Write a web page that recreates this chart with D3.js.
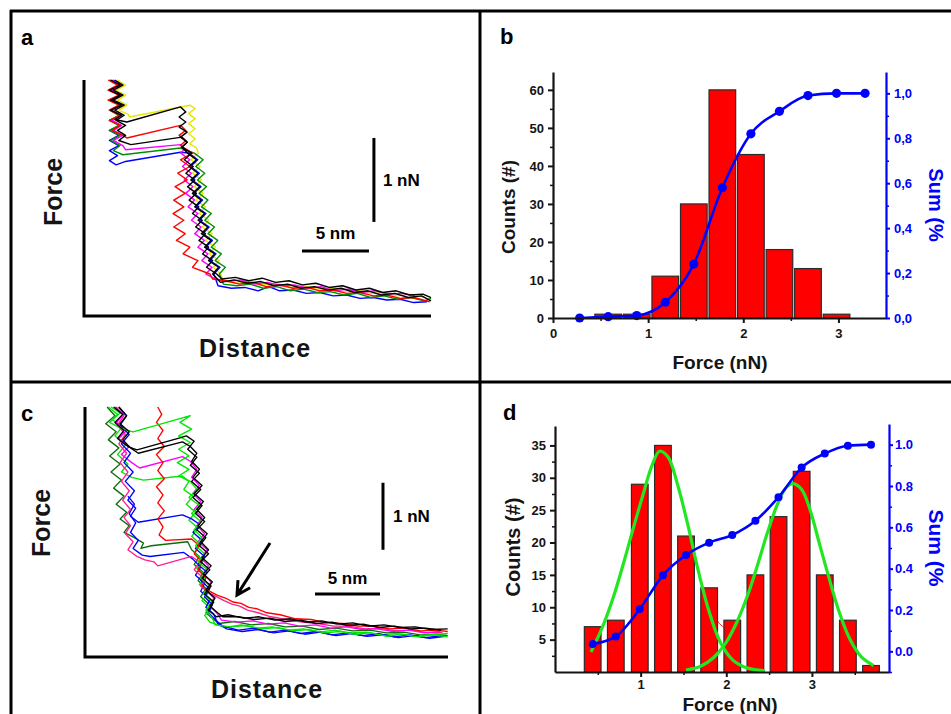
<!DOCTYPE html>
<html>
<head>
<meta charset="utf-8">
<script src="https://cdn.jsdelivr.net/npm/d3@7"></script>
<style>
  body { margin: 0; background: #fff; }
  svg { display: block; }
  text { font-family: "Liberation Sans", Arial, Helvetica, sans-serif; font-weight: bold; }
</style>
</head>
<body>
<svg id="fig" width="951" height="714"></svg>
<script>
// ---------------- Panel a: force–distance traces (nm, nN) ----------------
const aYellow = [[2.5,2.81],[3.1,2.75],[2.4,2.69],[3.1,2.63],[2.5,2.57],[3.2,2.51],[2.6,2.45],[3.3,2.4],[3.4,2.37],[7.9,2.51],[8.3,2.47],[7.8,2.41],[8.3,2.35],[7.8,2.29],[8.3,2.23],[7.8,2.17],[8.3,2.11],[7.9,2.05],[8.4,2.0],[8.53,1.94],[7.99,1.86],[8.65,1.78],[8.11,1.7],[8.77,1.62],[8.23,1.54],[8.89,1.46],[8.35,1.38],[9.07,1.3],[8.6,1.22],[9.32,1.14],[8.84,1.06],[9.56,0.98],[9.08,0.9],[9.8,0.82],[9.35,0.74],[10.1,0.66],[9.65,0.58],[10.2,0.5],[10.4,0.42],[11.4,0.39],[12.4,0.41],[13.4,0.37],[14.4,0.39],[15.4,0.34],[16.4,0.36],[17.4,0.32],[18.4,0.33],[19.4,0.29],[20.4,0.31],[21.4,0.27],[22.4,0.28],[23.4,0.24],[24.4,0.26],[25.4,0.22]];
const aBlue = [[2.2,2.81],[2.8,2.75],[2.1,2.69],[2.8,2.63],[2.0,2.57],[2.8,2.51],[2.0,2.45],[2.7,2.39],[1.9,2.33],[2.7,2.27],[1.9,2.21],[2.6,2.15],[1.9,2.09],[2.6,2.03],[1.9,1.97],[2.5,1.91],[1.9,1.85],[2.4,1.8],[3.1,1.84],[7.2,1.95],[7.83,1.94],[8.49,1.86],[7.95,1.78],[8.61,1.7],[8.07,1.62],[8.73,1.54],[8.19,1.46],[8.85,1.38],[8.37,1.3],[9.1,1.22],[8.62,1.14],[9.34,1.06],[8.86,0.98],[9.58,0.9],[9.1,0.82],[9.85,0.74],[9.4,0.66],[10.15,0.58],[9.7,0.5],[10.0,0.36],[11.0,0.33],[12.0,0.34],[13.0,0.3],[13.8,0.35],[14.6,0.3],[15.6,0.31],[16.6,0.27],[17.6,0.28],[18.6,0.24],[19.6,0.25],[20.6,0.21],[21.6,0.22],[22.6,0.19],[23.6,0.2],[24.6,0.16],[25.6,0.17]];
const aGreen = [[1.9,2.81],[2.7,2.75],[2.0,2.69],[2.7,2.63],[1.9,2.57],[2.7,2.51],[1.9,2.45],[2.6,2.39],[1.9,2.33],[2.6,2.27],[1.9,2.21],[2.7,2.15],[2.0,2.09],[2.7,2.03],[2.2,1.97],[2.9,1.92],[7.2,2.0],[8.23,1.94],[8.89,1.86],[8.35,1.78],[9.01,1.7],[8.47,1.62],[9.13,1.54],[8.59,1.46],[9.25,1.38],[8.77,1.3],[9.5,1.22],[9.02,1.14],[9.74,1.06],[9.26,0.98],[9.98,0.9],[9.5,0.82],[10.25,0.74],[9.8,0.66],[10.55,0.58],[10.1,0.5],[10.4,0.38],[11.4,0.36],[12.4,0.38],[13.4,0.33],[14.4,0.35],[15.4,0.3],[16.4,0.32],[17.4,0.28],[18.4,0.29],[19.4,0.25],[20.4,0.27],[21.4,0.22],[22.4,0.24],[23.4,0.2],[24.4,0.22],[25.4,0.18],[25.9,0.21]];
const aMagenta = [[2.1,2.81],[2.8,2.75],[2.0,2.69],[2.8,2.63],[2.1,2.57],[2.8,2.51],[2.0,2.45],[2.8,2.39],[2.1,2.33],[2.8,2.27],[2.2,2.21],[2.9,2.15],[2.2,2.09],[2.9,2.03],[3.1,1.98],[7.2,2.04],[7.5,1.99],[7.23,1.94],[7.89,1.86],[7.35,1.78],[8.01,1.7],[7.47,1.62],[8.13,1.54],[7.59,1.46],[8.25,1.38],[7.77,1.3],[8.5,1.22],[8.02,1.14],[8.74,1.06],[8.26,0.98],[8.98,0.9],[8.5,0.82],[9.25,0.74],[8.8,0.66],[9.55,0.58],[9.1,0.5],[9.7,0.45],[10.7,0.41],[11.7,0.43],[12.7,0.38],[13.7,0.4],[14.7,0.36],[15.7,0.37],[16.7,0.33],[17.7,0.35],[18.7,0.3],[19.7,0.32],[20.7,0.28],[21.7,0.3],[22.7,0.26],[23.7,0.27],[24.7,0.24]];
const aRed = [[1.8,2.81],[2.5,2.75],[1.8,2.69],[2.6,2.63],[1.8,2.57],[2.6,2.51],[1.9,2.45],[2.7,2.39],[1.9,2.33],[2.7,2.27],[2.1,2.21],[2.9,2.15],[3.2,2.12],[7.2,2.27],[7.6,2.21],[7.1,2.15],[7.6,2.09],[7.2,2.03],[8.1,1.94],[7.2,1.86],[7.9,1.78],[7.0,1.7],[7.7,1.62],[6.8,1.54],[7.55,1.46],[6.7,1.38],[7.45,1.3],[6.65,1.22],[7.45,1.14],[6.7,1.06],[7.55,0.98],[6.9,0.9],[7.9,0.82],[7.4,0.74],[8.5,0.66],[8.1,0.58],[9.4,0.5],[9.6,0.44],[10.6,0.42],[11.6,0.38],[12.6,0.4],[13.6,0.35],[14.6,0.37],[15.6,0.33],[16.6,0.34],[17.6,0.3],[18.6,0.31],[19.6,0.27],[20.6,0.28],[21.6,0.24],[22.6,0.25],[23.6,0.21],[24.6,0.22],[25.8,0.17]];
const aBlack2 = [[2.3,2.81],[2.9,2.75],[2.2,2.69],[2.9,2.63],[2.2,2.57],[3.0,2.51],[2.3,2.45],[3.0,2.39],[2.4,2.33],[3.1,2.27],[2.5,2.21],[3.1,2.15],[2.6,2.09],[3.5,2.04],[7.3,2.13],[7.7,2.07],[7.3,2.01],[7.73,1.94],[8.39,1.86],[7.85,1.78],[8.51,1.7],[7.97,1.62],[8.63,1.54],[8.09,1.46],[8.75,1.38],[8.27,1.3],[9.0,1.22],[8.52,1.14],[9.24,1.06],[8.76,0.98],[9.48,0.9],[9.0,0.82],[9.75,0.74],[9.3,0.66],[10.05,0.58],[9.6,0.5],[10.2,0.4],[11.2,0.43],[12.2,0.39],[13.2,0.41],[14.2,0.36],[15.2,0.38],[16.2,0.33],[17.2,0.35],[18.2,0.31],[19.2,0.33],[20.2,0.28],[21.2,0.3],[22.2,0.25],[23.2,0.27],[24.2,0.22],[25.2,0.24],[25.9,0.18]];
const aBlack1 = [[2.0,2.81],[2.7,2.75],[1.9,2.69],[2.7,2.63],[2.0,2.57],[2.8,2.51],[2.0,2.45],[2.8,2.39],[2.3,2.34],[3.2,2.31],[7.2,2.49],[7.6,2.43],[7.1,2.37],[7.6,2.31],[7.1,2.25],[7.7,2.19],[7.2,2.13],[7.7,2.07],[7.3,2.01],[8.03,1.94],[7.49,1.86],[8.15,1.78],[7.61,1.7],[8.27,1.62],[7.73,1.54],[8.39,1.46],[7.85,1.38],[8.57,1.3],[8.1,1.22],[8.82,1.14],[8.34,1.06],[9.06,0.98],[8.58,0.9],[9.3,0.82],[8.85,0.74],[9.6,0.66],[9.15,0.58],[9.9,0.5],[10.3,0.44],[11.3,0.46],[12.3,0.42],[13.3,0.45],[14.3,0.4],[15.3,0.42],[16.3,0.37],[17.3,0.39],[18.3,0.34],[19.3,0.36],[20.3,0.31],[21.3,0.33],[22.3,0.28],[23.3,0.3],[24.3,0.25],[25.3,0.26],[25.9,0.22]];
const aTraces = [aYellow, aBlue, aGreen, aMagenta, aRed, aBlack2, aBlack1];
const aColors = ["#e6e600", "#0000ff", "#008f00", "#ff00ff", "#ff0000", "#000000", "#000000"];

// ---------------- Panel c: force–distance traces (nm, nN) ----------------
const cDkGreen = [[1.7,3.73],[2.3,3.6],[1.6,3.48],[2.4,3.36],[1.8,3.24],[2.6,3.12],[1.9,3.0],[2.7,2.88],[2.0,2.76],[2.8,2.64],[2.2,2.52],[3.0,2.4],[2.4,2.28],[3.2,2.16],[2.7,2.06],[3.4,1.96],[3.0,1.86],[3.8,1.78],[4.5,1.7],[4.3,1.62],[5.1,1.66],[7.9,1.72],[8.2,1.6],[8.8,1.5],[8.4,1.38],[9.1,1.26],[8.7,1.14],[9.3,1.02],[8.9,0.9],[9.6,0.78],[9.3,0.66],[9.9,0.56],[10.3,0.5],[11.5,0.53],[12.8,0.48],[14.1,0.5],[15.4,0.45],[16.7,0.46],[18.0,0.41],[19.3,0.43],[20.6,0.39],[21.9,0.4],[23.2,0.36],[24.5,0.37],[25.8,0.33],[27.1,0.34],[27.9,0.32]];
const cGreen2 = [[2.0,3.73],[2.7,3.64],[2.1,3.54],[2.9,3.44],[2.3,3.3],[3.1,3.16],[2.5,3.02],[3.3,2.88],[2.8,2.76],[3.6,2.68],[4.5,2.64],[7.5,2.7],[8.0,2.62],[7.6,2.5],[8.3,2.4],[7.8,2.28],[8.5,2.16],[8.0,2.04],[8.7,1.92],[8.2,1.8],[8.9,1.68],[8.4,1.56],[9.1,1.44],[8.6,1.32],[9.3,1.2],[8.8,1.08],[9.5,0.96],[9.0,0.84],[9.7,0.72],[9.2,0.62],[9.6,0.52],[10.8,0.44],[12.0,0.48],[13.2,0.43],[14.4,0.45],[15.6,0.4],[16.8,0.42],[18.0,0.37],[19.2,0.4],[20.4,0.36],[21.6,0.37],[22.8,0.33],[24.0,0.35],[25.2,0.31],[26.4,0.33],[27.9,0.35]];
const cBlue2 = [[3.3,2.4],[3.8,2.28],[3.4,2.14],[3.9,2.0],[3.5,1.86],[4.1,1.74],[3.7,1.62],[4.4,1.52],[5.0,1.5],[7.6,1.56],[8.3,1.46],[8.9,1.34],[8.5,1.22],[9.2,1.1],[8.9,0.98],[9.6,0.86],[9.3,0.74],[9.9,0.64],[10.2,0.5],[10.9,0.42],[12.1,0.38],[13.3,0.41],[14.5,0.36],[15.7,0.39],[16.9,0.34],[18.1,0.37],[19.3,0.32],[20.5,0.35],[21.7,0.31],[22.9,0.33],[24.1,0.29],[25.3,0.32],[26.5,0.28],[27.7,0.31]];
const cPink = [[2.4,3.73],[3.0,3.6],[2.5,3.46],[3.1,3.32],[2.6,3.18],[3.2,3.04],[2.7,2.9],[3.3,2.76],[2.8,2.62],[3.4,2.48],[2.9,2.34],[3.5,2.2],[3.0,2.08],[3.5,1.96],[3.1,1.84],[3.7,1.72],[3.3,1.6],[4.0,1.5],[4.6,1.45],[5.3,1.42],[5.6,1.36],[8.2,1.5],[8.8,1.42],[8.4,1.3],[9.1,1.18],[8.9,1.06],[9.5,0.96],[10.1,0.9],[10.7,0.84],[11.3,0.79],[11.9,0.76],[12.5,0.7],[13.3,0.66],[14.3,0.6],[15.5,0.56],[16.7,0.52],[17.9,0.5],[19.1,0.46],[20.3,0.46],[21.5,0.42],[22.7,0.43],[23.9,0.39],[25.1,0.4],[26.3,0.36],[27.5,0.37]];
const cMagenta = [[2.3,3.73],[3.0,3.62],[2.4,3.5],[3.2,3.38],[2.6,3.26],[3.4,3.14],[2.8,3.02],[3.6,2.9],[4.2,2.82],[7.5,2.99],[8.1,2.92],[8.6,2.8],[8.2,2.68],[8.8,2.56],[8.3,2.44],[8.9,2.32],[8.4,2.2],[9.0,2.08],[8.6,1.96],[9.2,1.84],[8.7,1.72],[9.4,1.6],[8.9,1.48],[9.5,1.36],[9.1,1.24],[9.7,1.12],[9.3,1.0],[9.9,0.88],[9.6,0.76],[10.2,0.64],[10.5,0.55],[11.7,0.52],[12.9,0.54],[14.1,0.49],[15.3,0.51],[16.5,0.46],[17.7,0.48],[18.9,0.43],[20.1,0.45],[21.3,0.41],[22.5,0.42],[23.7,0.38],[24.9,0.4],[26.1,0.36],[27.3,0.38]];
const cBlue = [[2.6,3.73],[3.2,3.6],[2.7,3.46],[3.4,3.32],[2.8,3.18],[3.5,3.04],[3.0,2.9],[3.7,2.76],[3.1,2.62],[3.8,2.48],[3.3,2.34],[3.9,2.22],[3.5,2.1],[4.1,2.01],[7.5,2.12],[8.2,2.06],[8.8,1.98],[8.3,1.86],[9.0,1.74],[8.5,1.62],[9.2,1.5],[8.7,1.38],[9.4,1.26],[8.9,1.14],[9.6,1.02],[9.2,0.9],[9.8,0.78],[9.5,0.66],[10.0,0.56],[10.6,0.46],[11.8,0.4],[13.0,0.43],[14.2,0.37],[15.4,0.4],[16.6,0.35],[17.8,0.38],[19.0,0.33],[20.2,0.36],[21.4,0.32],[22.6,0.35],[23.8,0.3],[25.0,0.33],[26.2,0.29],[27.4,0.32]];
const cRed = [[5.6,3.73],[5.9,3.62],[5.5,3.5],[6.0,3.38],[5.6,3.26],[6.1,3.14],[5.5,3.02],[6.0,2.9],[5.6,2.78],[6.1,2.66],[5.5,2.54],[6.0,2.42],[5.6,2.3],[6.1,2.18],[5.6,2.06],[6.0,1.94],[5.7,1.82],[6.2,1.74],[8.2,1.76],[8.8,1.66],[8.4,1.54],[9.0,1.42],[8.7,1.3],[9.3,1.18],[9.0,1.06],[9.6,0.98],[10.2,0.92],[10.8,0.88],[11.4,0.82],[12.0,0.8],[12.6,0.74],[13.2,0.72],[14.0,0.66],[15.0,0.63],[16.2,0.57],[17.4,0.56],[18.6,0.51],[19.8,0.5],[21.0,0.46],[22.2,0.46],[23.4,0.42],[24.6,0.43],[25.8,0.39],[27.0,0.4],[27.9,0.38]];
const cGreen1 = [[1.8,3.73],[2.5,3.62],[1.9,3.5],[2.7,3.42],[3.7,3.36],[8.1,3.6],[7.3,3.5],[8.2,3.4],[7.2,3.3],[8.1,3.2],[7.2,3.1],[8.0,3.0],[7.1,2.9],[8.0,2.8],[7.2,2.7],[8.1,2.62],[8.6,2.5],[8.0,2.38],[8.8,2.26],[8.2,2.14],[8.9,2.02],[8.4,1.9],[9.0,1.78],[8.5,1.66],[9.2,1.54],[8.7,1.42],[9.4,1.3],[8.9,1.18],[9.6,1.06],[9.1,0.94],[9.8,0.82],[9.3,0.7],[9.8,0.58],[10.0,0.48],[11.2,0.45],[12.4,0.47],[13.6,0.42],[14.8,0.44],[16.0,0.39],[17.2,0.41],[18.4,0.36],[19.6,0.38],[20.8,0.34],[22.0,0.36],[23.2,0.31],[24.4,0.34],[25.6,0.3],[26.8,0.33],[27.9,0.3]];
const cBlack2 = [[2.6,3.73],[3.2,3.6],[2.7,3.48],[3.4,3.36],[2.9,3.24],[3.5,3.12],[4.1,3.04],[7.5,3.21],[8.1,3.14],[8.6,3.04],[8.2,2.92],[8.8,2.8],[8.3,2.68],[9.0,2.56],[8.4,2.44],[9.1,2.32],[8.6,2.2],[9.2,2.08],[8.7,1.96],[9.4,1.84],[8.9,1.72],[9.5,1.6],[9.0,1.48],[9.7,1.36],[9.1,1.24],[9.8,1.12],[9.3,1.0],[10.0,0.88],[9.6,0.76],[10.2,0.66],[10.6,0.6],[11.8,0.6],[13.0,0.56],[14.2,0.58],[15.4,0.53],[16.6,0.55],[17.8,0.5],[19.0,0.52],[20.2,0.47],[21.4,0.49],[22.6,0.44],[23.8,0.46],[25.0,0.42],[26.2,0.43],[27.4,0.4]];
const cBlack1 = [[2.2,3.73],[2.9,3.62],[2.3,3.5],[3.0,3.38],[2.5,3.26],[3.3,3.14],[4.0,3.09],[7.3,3.27],[7.8,3.3],[8.4,3.22],[7.9,3.1],[8.6,2.98],[8.1,2.86],[8.8,2.74],[8.2,2.62],[8.9,2.5],[8.3,2.38],[9.0,2.26],[8.5,2.14],[9.2,2.02],[8.6,1.9],[9.3,1.78],[8.8,1.66],[9.5,1.54],[8.9,1.42],[9.6,1.3],[9.0,1.18],[9.7,1.06],[9.2,0.94],[9.9,0.82],[9.5,0.7],[10.1,0.6],[11.0,0.63],[12.2,0.58],[13.4,0.6],[14.6,0.55],[15.8,0.57],[17.0,0.52],[18.2,0.54],[19.4,0.49],[20.6,0.51],[21.8,0.46],[23.0,0.48],[24.2,0.44],[25.4,0.45],[26.6,0.41],[27.9,0.42]];
const cTraces = [cDkGreen, cGreen2, cBlue2, cPink, cMagenta, cBlue, cRed, cGreen1, cBlack2, cBlack1];
const cColors = ["#0b6e0b", "#00e600", "#0000ff", "#ff1f8f", "#ff00ff", "#0000ff", "#ff0000", "#00e600", "#000000", "#000000"];
// arrow marking the shoulder: tail and tip (nm, nN)
const cArrow = [[14.23, 1.70], [11.69, 0.925]];

// ---------------- Panel b: histogram + cumulative sum ----------------
const bForce = [0.58, 0.88, 1.18, 1.48, 1.78, 2.08, 2.38, 2.68, 2.98];
const bCounts = [1, 1, 11, 30, 60, 43, 18, 13, 1];
const bSumForce = [0.28, 0.58, 0.88, 1.18, 1.48, 1.78, 2.08, 2.38, 2.68, 2.98, 3.28];
const bSum = [0.0, 0.006, 0.011, 0.07, 0.24, 0.58, 0.82, 0.92, 0.99, 1.0, 1.0];
const bCountTicks = [0, 10, 20, 30, 40, 50, 60];
const bSumTicks = [0, 0.2, 0.4, 0.6, 0.8, 1.0];
const bForceTicks = [0, 1, 2, 3];

// ---------------- Panel d: histogram, Gaussian fits + cumulative sum ----------------
const dForce = [0.44, 0.71, 0.99, 1.26, 1.53, 1.8, 2.07, 2.34, 2.61, 2.88, 3.15, 3.42, 3.69];
const dCounts = [7, 8, 29, 35, 21, 13, 8, 15, 24, 31, 15, 8, 1];
const dSum = [0.035, 0.072, 0.205, 0.368, 0.466, 0.526, 0.563, 0.632, 0.746, 0.889, 0.957, 0.995, 1.0];
const dFit1Force = [0.42, 0.55, 0.68, 0.8, 0.92, 1.03, 1.13, 1.22, 1.32, 1.43, 1.55, 1.67, 1.8, 1.93, 2.08, 2.25, 2.45];
const dFit1Count = [3.1, 6.8, 11.5, 16.8, 22.5, 27.5, 31.8, 34.1, 33.2, 29.0, 22.8, 15.8, 9.3, 4.6, 1.8, 0.6, 0.2];
const dFit2Force = [1.53, 1.7, 1.85, 2.0, 2.12, 2.24, 2.36, 2.48, 2.6, 2.7, 2.78, 2.88, 2.98, 3.08, 3.2, 3.32, 3.45, 3.58, 3.72];
const dFit2Count = [0.3, 0.9, 2.2, 4.6, 7.6, 11.5, 16.3, 21.5, 26.0, 28.5, 29.1, 28.2, 25.0, 20.2, 14.5, 9.2, 4.9, 2.3, 1.0];
const dFitSumForce = [1.82, 1.9, 1.98, 2.06, 2.14, 2.22];
const dFitSumCount = [9.6, 7.8, 6.9, 7.0, 8.2, 10.6];
const dCountTicks = [5, 10, 15, 20, 25, 30, 35];
const dSumTicks = [0, 0.2, 0.4, 0.6, 0.8, 1.0];
const dForceTicks = [1, 2, 3];

// ======================================================================
const svg = d3.select("#fig");
const INK = "#141414";

// panel frame
const frame = svg.append("g").attr("stroke", "#000").attr("stroke-width", 3).attr("fill", "none");
[[10, 11, 951, 11], [11, 10, 11, 714], [480, 11, 480, 714], [11, 382, 951, 382]].forEach(l =>
  frame.append("line").attr("x1", l[0]).attr("y1", l[1]).attr("x2", l[2]).attr("y2", l[3]));

// panel letters
[["a", 21, 45], ["b", 500, 44], ["c", 21, 421], ["d", 503, 420]].forEach(t =>
  svg.append("text").attr("x", t[1]).attr("y", t[2]).attr("font-size", 22).attr("fill", "#000").text(t[0]));

// ---------- trace panels ----------
function tracePanel(p) {
  const g = svg.append("g");
  const x = d3.scaleLinear().domain([0, p.dMax]).range([p.left, p.right]);
  const y = d3.scaleLinear().domain([0, p.fMax]).range([p.bottom, p.top]);
  const line = d3.line().x(d => x(d[0])).y(d => y(d[1]));
  p.traces.forEach((t, i) => {
    g.append("path").attr("d", line(t)).attr("fill", "none")
      .attr("stroke", p.colors[i]).attr("stroke-width", p.lw).attr("stroke-linejoin", "round");
  });
  // L-shaped axes without ticks
  g.append("path")
    .attr("d", `M${x(0)},${y(p.fMax)}V${y(0)}H${x(p.dMax)}`)
    .attr("fill", "none").attr("stroke", "#000").attr("stroke-width", 3);
  // scale bars: 1 nN and 5 nm
  const sb = p.bars;
  g.append("line").attr("x1", x(sb.fx)).attr("x2", x(sb.fx)).attr("y1", y(sb.f0)).attr("y2", y(sb.f0 + 1))
    .attr("stroke", "#000").attr("stroke-width", 3);
  g.append("line").attr("x1", x(sb.d0)).attr("x2", x(sb.d0 + 5)).attr("y1", y(sb.dy)).attr("y2", y(sb.dy))
    .attr("stroke", "#000").attr("stroke-width", 3);
  g.append("text").attr("x", x(sb.fx) + sb.fLabelDx).attr("y", y(sb.f0 + 0.5) + 6)
    .attr("font-size", 17).attr("fill", "#000").text("1 nN");
  g.append("text").attr("x", x(sb.d0 + 2.5)).attr("y", y(sb.dy) - sb.dLabelDy).attr("text-anchor", "middle")
    .attr("font-size", 17).attr("fill", "#000").text("5 nm");
  // axis titles
  g.append("text").attr("transform", `translate(${p.forceX},${p.forceY}) rotate(-90)`)
    .attr("text-anchor", "middle").attr("font-size", 25).attr("fill", INK).text("Force");
  g.append("text").attr("x", p.distX).attr("y", p.distY).attr("text-anchor", "middle")
    .attr("font-size", 25).attr("letter-spacing", 1).attr("fill", INK).text("Distance");
  return { g, x, y };
}

tracePanel({
  dMax: 25.9, fMax: 2.81, left: 84, right: 431, bottom: 316, top: 80,
  traces: aTraces, colors: aColors, lw: 1.4,
  bars: { fx: 21.64, f0: 1.12, d0: 16.27, dy: 0.774, fLabelDx: 9, dLabelDy: 12 },
  forceX: 62, forceY: 192, distX: 255, distY: 357
});

const pc = tracePanel({
  dMax: 27.92, fMax: 3.73, left: 85, right: 448, bottom: 657, top: 407,
  traces: cTraces, colors: cColors, lw: 1.35,
  bars: { fx: 22.92, f0: 1.6, d0: 17.69, dy: 0.94, fLabelDx: 10, dLabelDy: 10 },
  forceX: 50, forceY: 523, distX: 267, distY: 698
});

// arrow in panel c
{
  const [t0, t1] = cArrow;
  const x0 = pc.x(t0[0]), y0 = pc.y(t0[1]), x1 = pc.x(t1[0]), y1 = pc.y(t1[1]);
  const ang = Math.atan2(y1 - y0, x1 - x0);
  const L = 15, spread = 0.5;
  const head = [ang + Math.PI - spread, ang + Math.PI + spread].map(a => [x1 + L * Math.cos(a), y1 + L * Math.sin(a)]);
  pc.g.append("path")
    .attr("d", `M${x0},${y0}L${x1},${y1}M${head[0][0]},${head[0][1]}L${x1},${y1}L${head[1][0]},${head[1][1]}`)
    .attr("fill", "none").attr("stroke", "#000").attr("stroke-width", 3).attr("stroke-linejoin", "miter");
}

// ---------- histogram panels ----------
function histPanel(p) {
  const g = svg.append("g");
  const x = d3.scaleLinear().domain(p.xDom).range([p.left, p.right]);
  const yL = d3.scaleLinear().domain(p.yLDom).range([p.bottom, p.top]);
  const yR = d3.scaleLinear().domain(p.yRDom).range([p.bottom, p.topR]);
  const bw = x(p.barW) - x(0);

  if (p.under) p.under(g, x, yL);

  g.selectAll("rect.bar").data(p.counts).join("rect").attr("class", "bar")
    .attr("x", (d, i) => x(p.force[i]) - bw / 2).attr("width", bw)
    .attr("y", d => yL(d)).attr("height", d => yL(0) - yL(d))
    .attr("fill", "#ff0000").attr("stroke", "#2b2b2b").attr("stroke-width", 1.2);

  if (p.over) p.over(g, x, yL);

  // cumulative sum
  const sumLine = d3.line().curve(d3.curveMonotoneX).x(d => x(d[0])).y(d => yR(d[1]));
  const sumPts = p.sumForce.map((f, i) => [f, p.sum[i]]);
  g.append("path").attr("d", sumLine(sumPts)).attr("fill", "none")
    .attr("stroke", "#0000ff").attr("stroke-width", 2.6);
  g.selectAll("circle.sum").data(sumPts).join("circle").attr("class", "sum")
    .attr("cx", d => x(d[0])).attr("cy", d => yR(d[1])).attr("r", p.dotR).attr("fill", "#0000ff");

  const style = (sel, color, fs) => {
    sel.select(".domain").attr("stroke", color).attr("stroke-width", 2.2);
    sel.selectAll(".tick line").attr("stroke", color).attr("stroke-width", 2);
    sel.selectAll(".tick text").attr("fill", color).attr("font-size", fs)
      .attr("font-family", '"Liberation Sans", Arial, sans-serif').attr("font-weight", "bold");
  };
  // left counts axis
  const aL = g.append("g").attr("transform", `translate(${p.left},0)`)
    .call(d3.axisLeft(yL).tickValues(p.yLTicks).tickSize(5).tickSizeOuter(0).tickPadding(p.padL).tickFormat(d3.format("d")));
  style(aL, INK, 13);
  const aLm = g.append("g").attr("transform", `translate(${p.left},0)`)
    .call(d3.axisLeft(yL).tickValues(p.yLMinor).tickSize(3).tickFormat(""));
  aLm.select(".domain").remove(); aLm.selectAll("line").attr("stroke", INK).attr("stroke-width", 1.5);
  // bottom force axis
  const aB = g.append("g").attr("transform", `translate(0,${p.bottom})`)
    .call(d3.axisBottom(x).tickValues(p.xTicks).tickSize(5).tickSizeOuter(0).tickPadding(p.padB).tickFormat(d3.format("d")));
  style(aB, INK, 13);
  const aBm = g.append("g").attr("transform", `translate(0,${p.bottom})`)
    .call(d3.axisBottom(x).tickValues(p.xMinor).tickSize(3).tickFormat(""));
  aBm.select(".domain").remove(); aBm.selectAll("line").attr("stroke", INK).attr("stroke-width", 1.5);
  // right sum axis
  const aR = g.append("g").attr("transform", `translate(${p.right},0)`)
    .call(d3.axisRight(yR).tickValues(p.yRTicks).tickSize(4).tickSizeOuter(0).tickPadding(p.padR).tickFormat(p.fmtR));
  style(aR, "#0000ff", 13);
  const aRm = g.append("g").attr("transform", `translate(${p.right},0)`)
    .call(d3.axisRight(yR).tickValues(p.yRMinor).tickSize(3).tickFormat(""));
  aRm.select(".domain").remove(); aRm.selectAll("line").attr("stroke", "#0000ff").attr("stroke-width", 1.5);

  // titles
  g.append("text").attr("transform", `translate(${p.countsX},${p.countsY}) rotate(-90)`)
    .attr("text-anchor", "middle").attr("font-size", p.titleSize).attr("fill", INK).text("Counts (#)");
  g.append("text").attr("transform", `translate(${p.sumX},${p.sumY}) rotate(90)`)
    .attr("text-anchor", "middle").attr("font-size", p.titleSize + 1).attr("fill", "#0000ff").text("Sum (%");
  g.append("text").attr("x", p.forceX).attr("y", p.forceY).attr("text-anchor", "middle")
    .attr("font-size", p.forceSize).attr("fill", INK).text("Force (nN)");
  return g;
}

histPanel({
  xDom: [0, 3.5], left: 553, right: 886, yLDom: [0, 64.7], bottom: 318, top: 72,
  yRDom: [0, 1.095], topR: 72, barW: 0.28, dotR: 4.6,
  force: bForce, counts: bCounts, sumForce: bSumForce, sum: bSum,
  yLTicks: bCountTicks, yLMinor: [5, 15, 25, 35, 45, 55], xTicks: bForceTicks, xMinor: [0.5, 1.5, 2.5],
  yRTicks: bSumTicks, yRMinor: [0.1, 0.3, 0.5, 0.7, 0.9], fmtR: d => d.toFixed(1).replace(".", ","),
  padL: 4, padB: 6, padR: 4,
  titleSize: 19, forceSize: 19, countsX: 515, countsY: 207, sumX: 929, sumY: 205, forceX: 720, forceY: 369
});

histPanel({
  xDom: [0, 3.9], left: 555, right: 889, yLDom: [0, 38], bottom: 672, top: 426,
  yRDom: [-0.1, 1.1], topR: 424, barW: 0.195, dotR: 4,
  force: dForce, counts: dCounts, sumForce: dForce, sum: dSum,
  yLTicks: dCountTicks, yLMinor: [2.5, 7.5, 12.5, 17.5, 22.5, 27.5, 32.5], xTicks: dForceTicks, xMinor: [0.5, 1.5, 2.5, 3.5],
  yRTicks: dSumTicks, yRMinor: [-0.1, 0.1, 0.3, 0.5, 0.7, 0.9], fmtR: d => d.toFixed(1),
  padL: 4, padB: 3, padR: 2,
  titleSize: 20, forceSize: 19, countsX: 520, countsY: 547, sumX: 929, sumY: 548, forceX: 730, forceY: 711,
  under: (g, x, y) => {
    const ln = d3.line().curve(d3.curveCatmullRom).x(d => x(d[0])).y(d => y(d[1]));
    g.append("path").attr("d", ln(dFitSumForce.map((f, i) => [f, dFitSumCount[i]])))
      .attr("fill", "none").attr("stroke", "#ff0000").attr("stroke-width", 0.8);
  },
  over: (g, x, y) => {
    const ln = d3.line().curve(d3.curveCatmullRom).x(d => x(d[0])).y(d => y(d[1]));
    [[dFit1Force, dFit1Count], [dFit2Force, dFit2Count]].forEach(([fx, cy]) => {
      g.append("path").attr("d", ln(fx.map((f, i) => [f, cy[i]])))
        .attr("fill", "none").attr("stroke", "#22e622").attr("stroke-width", 3.2);
    });
  }
});
</script>
</body>
</html>
